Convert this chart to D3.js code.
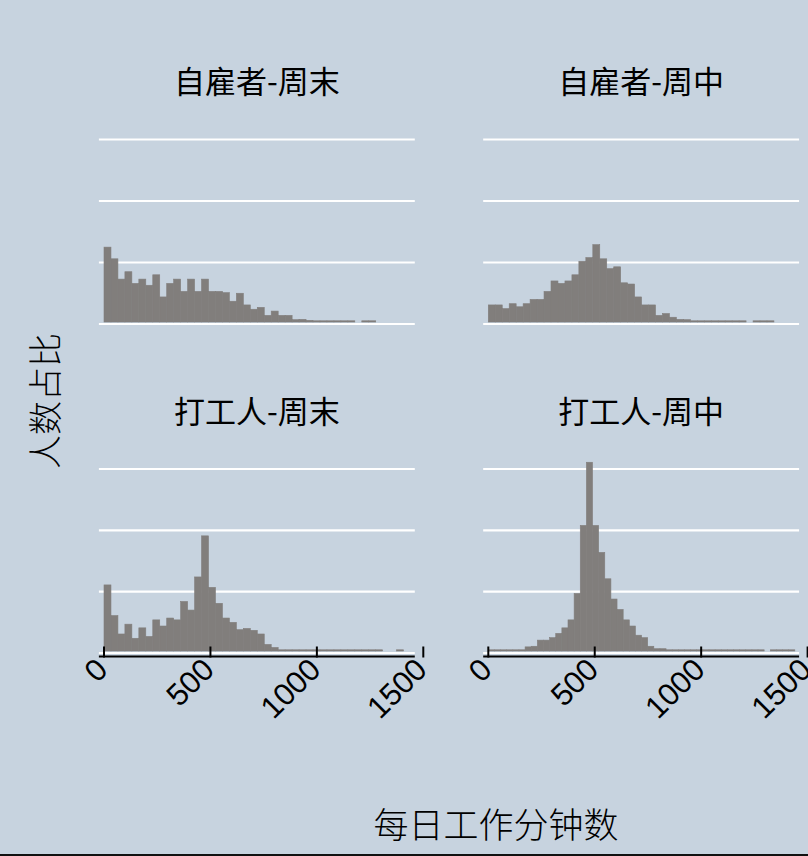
<!DOCTYPE html>
<html>
<head>
<meta charset="utf-8">
<script src="https://cdn.jsdelivr.net/npm/d3@7/dist/d3.min.js"></script>
<style>
  html, body { margin: 0; padding: 0; background: #c7d3df; }
  svg { display: block; }
</style>
</head>
<body>
<script>
// ---------- data (heights in gridline units, i.e. density ×0.001) ----------
const panelTitles = ["自雇者-周末", "自雇者-周中", "打工人-周末", "打工人-周中"];
const binWidths = [32.73, 32.73, 32.73, 28.8]; // minutes per bin
const selfWeekend = [1.25,1.06,0.73,0.85,0.66,0.73,0.63,0.80,0.44,0.66,0.73,0.53,0.73,0.53,0.73,0.53,0.53,0.51,0.37,0.50,
  0.31,0.24,0.27,0.14,0.21,0.14,0.14,0.07,0.075,0.06,0.05,0.05,0.05,0.05,0.05,0.05,0,0.05,0.05];
const selfWeekday = [0.31,0.31,0.25,0.33,0.28,0.33,0.40,0.40,0.53,0.70,0.66,0.70,0.80,1.02,1.08,1.29,1.06,0.90,0.93,0.67,
  0.65,0.44,0.31,0.31,0.14,0.17,0.11,0.075,0.07,0.05,0.05,0.05,0.05,0.05,0.05,0.05,0.05,0,0.05,0.05,0.05];
const workerWeekend = [1.11,0.61,0.31,0.47,0.24,0.41,0.27,0.54,0.44,0.57,0.54,0.84,0.70,1.24,1.91,1.07,0.81,0.57,0.50,0.38,
  0.40,0.37,0.31,0.14,0.09,0.04,0.04,0.04,0.04,0.03,0.03,0.03,0.03,0.03,0.03,0.03,0.03,0.03,0.03,0.03,0,0,0.04];
const workerWeekday = [0.05,0.03,0.03,0.03,0.05,0.03,0.10,0.11,0.21,0.21,0.25,0.32,0.41,0.54,0.97,2.08,3.11,2.08,1.64,1.21,
  0.88,0.71,0.54,0.44,0.29,0.25,0.11,0.07,0.07,0.03,0.05,0.03,0.03,0.03,0.03,0.03,0.03,0.03,0.03,0.03,
  0.03,0.03,0.03,0.03,0.03,0,0.03,0.03,0.03,0.03];
const seriesList = [selfWeekend, selfWeekday, workerWeekend, workerWeekday];
const xTicks = [0, 500, 1000, 1500];
const yGridValues = [0, 1, 2, 3];
const xTitle = "每日工作分钟数";
const yTitle = "人数占比";

// ---------- layout ----------
const W = 808, H = 856;
const bg = "#c7d3df", barColor = "#817e7c";
const colX = [[104, 423.3], [488.3, 807.6]];
const rowY = [[324, 139.5], [653, 469]];
const plotDomain = [-24, 1460];

const svg = d3.select("body").append("svg").attr("width", W).attr("height", H);
svg.append("rect").attr("width", W).attr("height", H).attr("fill", bg);

const cjk = "'Noto Sans CJK SC', 'Noto Sans', sans-serif";

seriesList.forEach((vals, p) => {
  const col = p % 2, row = Math.floor(p / 2);
  const x = d3.scaleLinear().domain([0, 1500]).range(colX[col]);
  const y = d3.scaleLinear().domain([0, 3]).range(rowY[row]);
  const g = svg.append("g");
  const px0 = x(plotDomain[0]), px1 = x(plotDomain[1]);

  // gridlines
  g.selectAll("line.grid").data(yGridValues).join("line")
    .attr("x1", px0).attr("x2", px1)
    .attr("y1", d => y(d)).attr("y2", d => y(d))
    .attr("stroke", "#ffffff").attr("stroke-width", 2.2);

  // bars
  const bw = binWidths[p];
  const base = y(0) - 2;
  g.selectAll("rect.bar").data(vals).join("rect")
    .attr("x", (d, i) => x(i * bw))
    .attr("width", (d, i) => x((i + 1) * bw) - x(i * bw))
    .attr("y", d => Math.min(y(d), base - (d > 0 ? 1.2 : 0)))
    .attr("height", d => d > 0 ? Math.max(base - y(d), 1.2) : 0)
    .attr("fill", barColor)
    .attr("stroke", barColor).attr("stroke-width", 0.6);

  // title
  svg.append("text")
    .attr("x", (px0 + px1) / 2).attr("y", y(3) - 60)
    .attr("text-anchor", "middle").attr("dominant-baseline", "central")
    .attr("font-family", cjk).attr("font-size", 31).attr("fill", "#000")
    .text(panelTitles[p]);

  // x axis on bottom row
  if (row === 1) {
    const ay = y(0) + 3.5;
    g.append("line").attr("x1", px0).attr("x2", px1).attr("y1", ay).attr("y2", ay)
      .attr("stroke", "#000").attr("stroke-width", 2.2);
    g.selectAll("line.tick").data(xTicks).join("line")
      .attr("x1", d => x(d)).attr("x2", d => x(d))
      .attr("y1", ay - 10).attr("y2", ay + 1)
      .attr("stroke", "#000").attr("stroke-width", 2);
    g.selectAll("text.tl").data(xTicks).join("text")
      .attr("transform", d => `translate(${x(d) + 5.5},${ay + 15}) rotate(-45)`)
      .attr("text-anchor", "end")
      .attr("font-family", "'Liberation Sans', Arial, sans-serif")
      .attr("font-size", 31).attr("fill", "#000")
      .text(d => d);
  }
});

// axis titles
svg.append("text")
  .attr("x", 496).attr("y", 822)
  .attr("text-anchor", "middle").attr("dominant-baseline", "central")
  .attr("font-family", cjk).attr("font-weight", 300).attr("font-size", 35).attr("fill", "#000")
  .text(xTitle);
svg.append("text")
  .attr("transform", "translate(43,401) rotate(-90)")
  .attr("text-anchor", "middle").attr("dominant-baseline", "central")
  .attr("font-family", cjk).attr("font-weight", 300).attr("font-size", 34).attr("fill", "#000")
  .text(yTitle);

// bottom frame line
svg.append("line").attr("x1", 0).attr("x2", W).attr("y1", 855).attr("y2", 855)
  .attr("stroke", "#111").attr("stroke-width", 2);
</script>
</body>
</html>
